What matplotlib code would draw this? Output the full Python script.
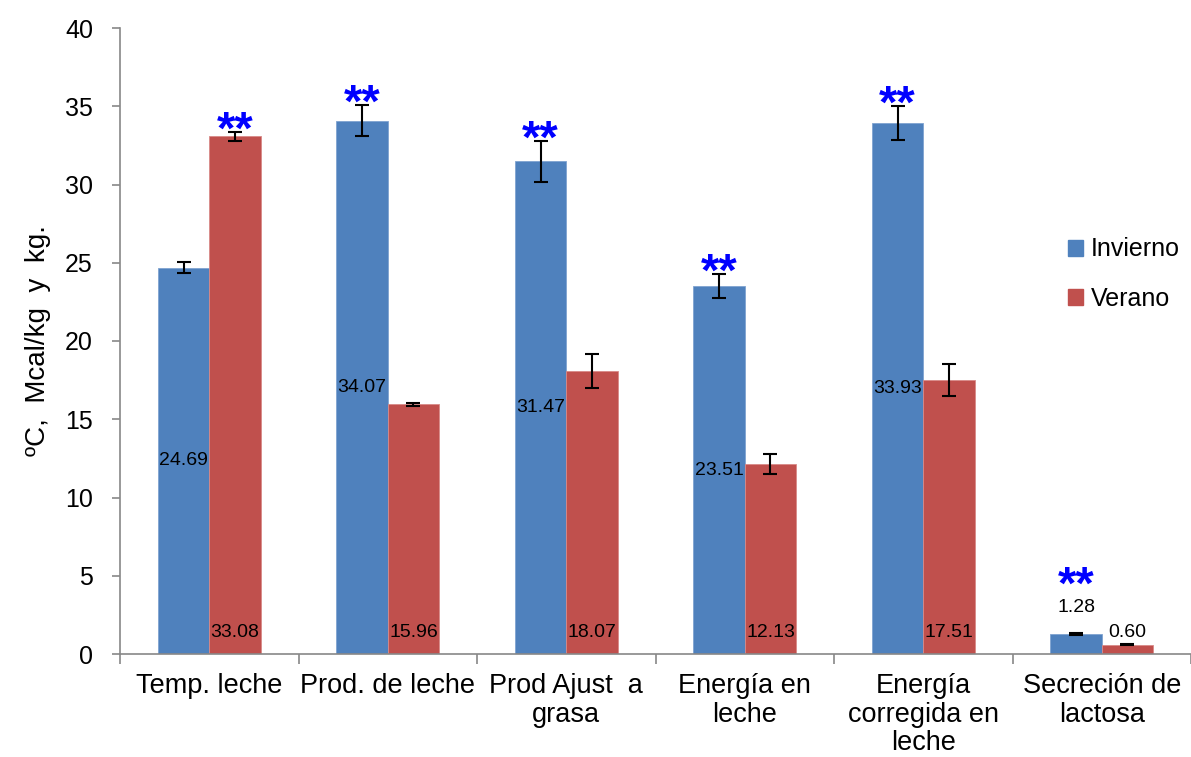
import matplotlib
matplotlib.use("Agg")
import matplotlib.pyplot as plt
import numpy as np
from matplotlib.patches import Patch

plt.rcParams['font.family'] = ['Liberation Sans', 'DejaVu Sans']

categories = ["Temp. leche", "Prod. de leche", "Prod Ajust  a\ngrasa", "Energía en\nleche",
              "Energía\ncorregida en\nleche", "Secreción de\nlactosa"]
invierno = [24.69, 34.07, 31.47, 23.51, 33.93, 1.28]
verano = [33.08, 15.96, 18.07, 12.13, 17.51, 0.60]
invierno_err = [0.35, 1.0, 1.3, 0.75, 1.1, 0.05]
verano_err = [0.3, 0.1, 1.1, 0.65, 1.0, 0.05]
# significance marks: which series gets "**" per category
sig = ["verano", "invierno", "invierno", "invierno", "invierno", "invierno"]

c_blue = "#4F81BD"
c_red = "#C0504D"

fig = plt.figure(figsize=(11.91, 7.57), dpi=100)
ax = fig.add_axes([120/1191, 103/757, 1071/1191, 626/757])

x = np.arange(len(categories))
w = 0.288
ekw = dict(ecolor='black', elinewidth=1.5, capsize=5, capthick=1.5)
ax.bar(x - w/2, invierno, w, color=c_blue, edgecolor='#7fa3d0', linewidth=0.6,
       yerr=invierno_err, error_kw=ekw, label="Invierno", zorder=2)
ax.bar(x + w/2, verano, w, color=c_red, edgecolor='#d88a88', linewidth=0.6,
       yerr=verano_err, error_kw=ekw, label="Verano", zorder=2)

ax.set_xlim(-0.5, -0.5 + 1071/179)
ax.set_ylim(0, 40)
ax.set_yticks(np.arange(0, 41, 5))

# value labels
for i in range(len(categories)):
    if invierno[i] > 5:
        ax.text(x[i] - w/2, invierno[i]/2, f"{invierno[i]:.2f}", ha='center', va='center',
                fontsize=14, zorder=3)
    else:
        ax.text(x[i] - w/2, 2.95, f"{invierno[i]:.2f}", ha='center', va='center',
                fontsize=14, zorder=3)
    ax.text(x[i] + w/2, 1.35, f"{verano[i]:.2f}", ha='center', va='center', fontsize=14, zorder=3)

# significance stars
for i in range(len(categories)):
    if sig[i] == "invierno":
        xs, top = x[i] - w/2, invierno[i] + invierno_err[i]
    else:
        xs, top = x[i] + w/2, verano[i] + verano_err[i]
    off = -8.5
    if invierno[i] < 5:
        off = 25
    ax.annotate("**", (xs, top), xytext=(0, off), textcoords='offset points',
                ha='center', va='baseline', fontsize=34, fontweight='bold', color='#0000FF',
                zorder=4)

ax.set_xticks(x)
ax.set_xticklabels(categories, fontsize=19.5, linespacing=1.12)
ax.set_xticks(np.arange(-0.5, 6.0, 1.0), minor=True)
ax.tick_params(axis='x', which='major', length=0, pad=14)
ax.tick_params(axis='x', which='minor', length=7, width=1.2, color='#888888', direction='out')
ax.tick_params(axis='y', labelsize=18, length=6, width=1.2, color='#888888', pad=13.5)

for s in ['top', 'right']:
    ax.spines[s].set_visible(False)
for s in ['left', 'bottom']:
    ax.spines[s].set_color('#888888')
    ax.spines[s].set_linewidth(1.2)

ax.set_ylabel("ºC,  Mcal/kg  y  kg.", fontsize=20, labelpad=10)

handles = [Patch(color=c_blue), Patch(color=c_red)]
fig.legend(handles, ["Invierno", "Verano"], loc='center left',
           bbox_to_anchor=(1068/1191, 1 - 274/757), frameon=False, fontsize=18,
           handlelength=0.6, handleheight=0.6, handletextpad=0.3, labelspacing=1.0,
           borderpad=0, borderaxespad=0)

fig.savefig("out.png", dpi=100)
